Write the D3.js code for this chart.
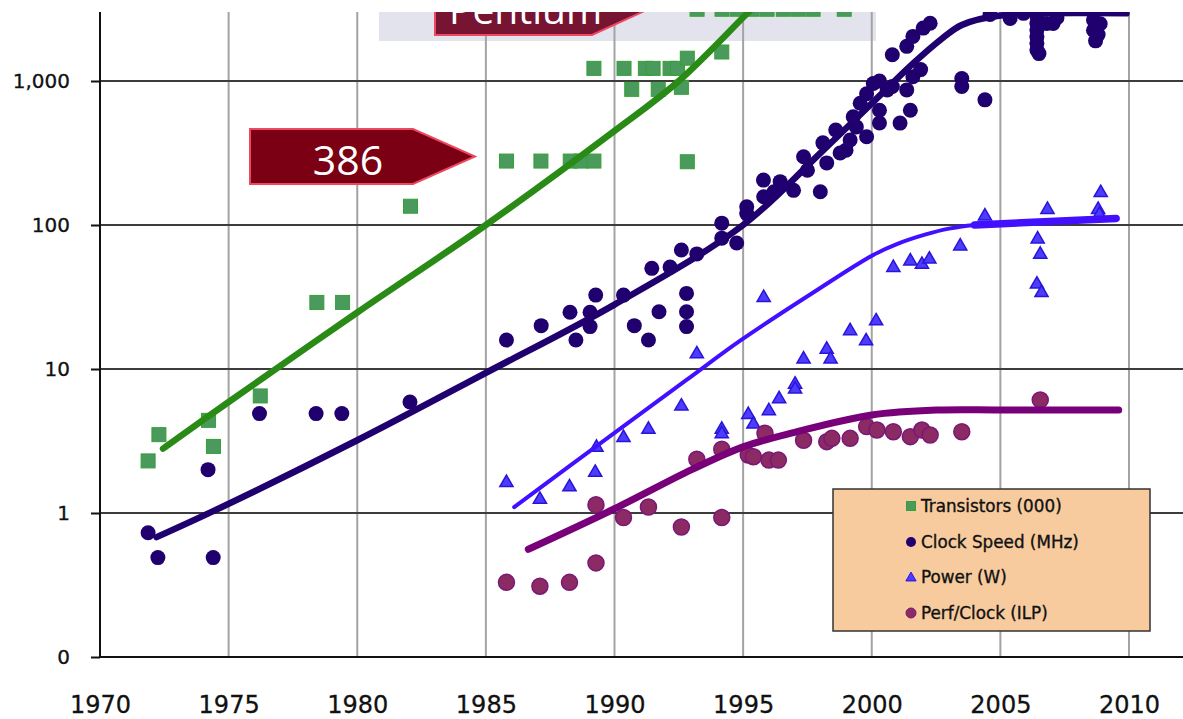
<!DOCTYPE html>
<html>
<head>
<meta charset="utf-8">
<script src="https://cdn.jsdelivr.net/npm/d3@7/dist/d3.min.js"></script>
<style>
html,body{margin:0;padding:0;background:#fff;}
svg{display:block;}
</style>
</head>
<body>
<svg id="chart" width="1183" height="719"></svg>
<script>
// ---------------- DATA ----------------
const xTicks = [1970, 1975, 1980, 1985, 1990, 1995, 2000, 2005, 2010];
const xTickLabels = ["1970", "1975", "1980", "1985", "1990", "1995", "2000", "2005", "2010"];
const yTicks = [0.1, 1, 10, 100, 1000];
const yTickLabels = ["0", "1", "10", "100", "1,000"];
const seriesNames = ["Transistors (000)", "Clock Speed (MHz)", "Power (W)", "Perf/Clock (ILP)"];

const transistors = [
  [1971.87, 2.3], [1972.29, 3.5], [1974.22, 4.4], [1974.41, 2.9], [1976.23, 6.5],
  [1978.43, 29], [1979.43, 29], [1982.07, 135],
  [1985.8, 278], [1987.14, 278], [1988.28, 278], [1988.7, 278], [1989.2, 278], [1992.83, 275],
  [1989.2, 1224], [1990.37, 1224], [1990.67, 875], [1991.2, 1224], [1991.5, 1224], [1991.7, 875],
  [1992.16, 1224], [1992.45, 1224], [1992.6, 904], [1992.83, 1440], [1994.17, 1590],
  [1993.21, 3150], [1994.18, 3150], [1994.77, 3150], [1995.35, 3150], [1995.93, 3150],
  [1996.56, 3150], [1997.14, 3150], [1997.72, 3150], [1998.93, 3150]
];

const clockSpeed = [
  [1971.87, 0.73], [1972.25, 0.49], [1974.4, 0.49], [1974.2, 2.0], [1976.2, 4.9], [1978.4, 4.9],
  [1979.4, 4.9], [1982.05, 5.9],
  [1985.8, 15.9], [1987.15, 20], [1988.27, 24.8], [1988.5, 15.9], [1989.27, 32.6], [1989.05, 24.8],
  [1989.05, 19.7], [1990.35, 32.6], [1990.77, 20], [1991.32, 15.9], [1991.73, 25], [1991.45, 50],
  [1992.16, 51], [1992.6, 67], [1992.8, 33.5], [1992.8, 25], [1992.8, 19.7], [1993.2, 63],
  [1994.17, 103], [1994.75, 75], [1994.17, 81], [1995.14, 120],
  [1995.14, 134], [1995.79, 205], [1996.44, 200], [1995.8, 157], [1996.2, 170], [1996.96, 174],
  [1997.35, 298], [1998.0, 170], [1997.5, 240], [1998.1, 372], [1998.25, 270], [1998.6, 457],
  [1999.0, 331], [1998.77, 316], [1999.28, 565], [1999.16, 389], [1999.8, 410], [1999.55, 700],
  [1999.8, 815], [2000.06, 960], [2000.3, 626], [2000.3, 511], [2000.6, 867], [2000.8, 915],
  [2001.1, 510], [2001.36, 867], [2001.5, 626], [2001.6, 1070], [2000.8, 1520], [2001.36, 1740],
  [2001.6, 2040], [2002.0, 2330], [2002.27, 2520], [2001.9, 1200], [2000.3, 1000], [1999.4, 480],
  [2003.5, 1040], [2003.5, 915], [2004.4, 740],
  [2005.38, 2720], [2006.42, 2800], [2006.42, 2510], [2006.42, 2260], [2006.42, 2030],
  [2006.42, 1830], [2006.42, 1640], [2006.5, 1550], [2006.8, 2510], [2007.05, 2510], [2007.2, 2750],
  [2008.62, 2650], [2008.62, 2250], [2008.7, 1900], [2008.8, 2100], [2008.88, 2500],
  [2004.6, 2900], [2005.9, 2950]
];

const power = [
  [1985.8, 1.65], [1987.1, 1.26], [1988.25, 1.54], [1989.25, 1.94], [1989.3, 2.9], [1990.35, 3.39],
  [1991.32, 3.87], [1992.6, 5.6], [1993.2, 12.9], [1994.17, 3.87], [1994.17, 3.6], [1995.2, 4.9],
  [1995.4, 4.2], [1995.8, 31.8], [1996.0, 5.2], [1996.4, 6.3], [1997.02, 7.95], [1997.02, 7.35],
  [1997.35, 11.9], [1998.25, 13.9], [1998.4, 11.9], [1999.16, 18.7], [1999.78, 15.9], [2000.17, 21.9],
  [2000.84, 51.4], [2001.5, 57], [2001.95, 54], [2002.24, 58.7], [2003.44, 72.5], [2004.4, 117],
  [2006.83, 130], [2006.45, 81], [2006.55, 63.5], [2006.42, 39.4], [2006.6, 34.4],
  [2008.9, 170], [2008.8, 130], [2008.85, 120]
];

const perfClock = [
  [1985.8, 0.33], [1987.1, 0.31], [1988.25, 0.33], [1989.28, 0.45], [1989.28, 1.14], [1990.35, 0.93],
  [1991.32, 1.1], [1992.6, 0.80], [1994.17, 0.93], [1993.2, 2.36], [1994.17, 2.77], [1995.2, 2.53],
  [1995.4, 2.46], [1995.85, 3.58], [1996.0, 2.33], [1996.37, 2.33], [1997.35, 3.2], [1998.25, 3.13],
  [1998.45, 3.3], [1999.16, 3.3], [1999.8, 3.98], [2000.2, 3.77], [2000.84, 3.67], [2001.5, 3.39],
  [2001.95, 3.77], [2002.27, 3.48], [2003.5, 3.67], [2006.55, 6.1]
];

// trend lines
const transistorTrend = [[1972.45, 2.8], [1975, 5.9], [1980, 24.7], [1985, 100], [1990, 450], [1992.5, 1000], [1995.2, 3000], [1996.2, 4500]];
const clockTrend = [[1972.2, 0.68], [1974.4, 1.03], [1980, 3.2], [1985, 9.4], [1990, 28], [1995, 100], [1998, 316], [2000, 700], [2001.6, 1320], [2002.7, 1950], [2003.5, 2450], [2005, 2850], [2009.9, 2950]];
const powerTrend = [[1986.1, 1.1], [1990, 3.6], [1992.8, 8.4], [1994.9, 15.8], [1997.5, 32], [2000.06, 62], [2001, 74], [2002.1, 86], [2003, 94.4], [2004, 100], [2005, 103], [2009.5, 111]];
const powerTrendTail = [[2004, 100], [2009.5, 111]];
const perfTrend = [[1986.65, 0.56], [1990, 1.07], [1993, 2.0], [1995, 2.88], [1997, 3.63], [2000, 4.79], [2002.6, 5.19], [2005, 5.2], [2009.6, 5.2]];

// annotation labels
const labels386 = "386";
const labelPentium = "Pentium";

// ---------------- CHART ----------------
const svg = d3.select("#chart");
const W = 1183, H = 719;
const plotTop = 12, plotLeft = 100, plotBottom = 657;

const x = d3.scaleLinear().domain([1970, 2010]).range([100, 1129]);
const y = d3.scaleLog().domain([0.1, 1000]).range([657, 81]);

svg.append("rect").attr("width", W).attr("height", H).attr("fill", "#fff");

const defs = svg.append("defs");
defs.append("clipPath").attr("id", "plotClip")
  .append("rect").attr("x", 0).attr("y", plotTop).attr("width", W).attr("height", H - plotTop);

const clipped = svg.append("g").attr("clip-path", "url(#plotClip)");

// pentium gray backdrop
clipped.append("rect")
  .attr("x", 379).attr("y", plotTop).attr("width", 497).attr("height", 41 - plotTop)
  .attr("fill", "#e2e3ec");

// vertical grid
const vGrid = [1975, 1980, 1985, 1990, 1995, 2000, 2005, 2010];
clipped.append("g").selectAll("line").data(vGrid).join("line")
  .attr("x1", d => x(d)).attr("x2", d => x(d))
  .attr("y1", plotTop).attr("y2", plotBottom)
  .attr("stroke", "#a3a3a3").attr("stroke-width", 2);

// horizontal grid
clipped.append("g").selectAll("line").data([1, 10, 100, 1000]).join("line")
  .attr("x1", plotLeft).attr("x2", W)
  .attr("y1", d => y(d)).attr("y2", d => y(d))
  .attr("stroke", "#3c3c3c").attr("stroke-width", 2);

// axes lines
clipped.append("line").attr("x1", plotLeft).attr("x2", plotLeft).attr("y1", plotTop).attr("y2", plotBottom)
  .attr("stroke", "#111").attr("stroke-width", 2);
clipped.append("line").attr("x1", plotLeft).attr("x2", W).attr("y1", plotBottom).attr("y2", plotBottom)
  .attr("stroke", "#111").attr("stroke-width", 2);

// y axis via d3
const yAxis = d3.axisLeft(y).tickValues(yTicks).tickFormat((d, i) => yTickLabels[i]).tickSize(9).tickPadding(21);
const yg = svg.append("g").attr("transform", `translate(${plotLeft},0)`).call(yAxis);
yg.select(".domain").remove();
yg.selectAll(".tick line").attr("stroke", "#111").attr("stroke-width", 2);
yg.selectAll(".tick text").attr("font-family", "DejaVu Sans, sans-serif").attr("font-size", 20).attr("fill", "#111")
  .attr("stroke", "#111").attr("stroke-width", 0.3);

// x axis via d3
const xAxis = d3.axisBottom(x).tickValues(xTicks).tickFormat((d, i) => xTickLabels[i]).tickSize(0).tickPadding(39);
const xg = svg.append("g").attr("transform", `translate(0,${plotBottom})`).call(xAxis);
xg.select(".domain").remove();
xg.selectAll(".tick text").attr("font-family", "DejaVu Sans, sans-serif").attr("font-size", 24).attr("fill", "#111")
  .attr("stroke", "#111").attr("stroke-width", 0.3);

// arrow labels
function arrow(g, x0, x1, tip, yTop, yBot, fill) {
  const ym = (yTop + yBot) / 2;
  g.append("path")
    .attr("d", `M${x0},${yTop}L${x1},${yTop}L${tip},${ym}L${x1},${yBot}L${x0},${yBot}Z`)
    .attr("fill", fill).attr("stroke", "#ec4862").attr("stroke-width", 2);
}
arrow(clipped, 435, 592, 652, -20, 35, "#761432");
clipped.append("text").attr("x", 449).attr("y", 24).text(labelPentium)
  .attr("font-family", "Open Sans, sans-serif").attr("font-size", 39).attr("fill", "#fff");
arrow(clipped, 250, 413, 475, 129, 184, "#7b0013");
clipped.append("text").attr("x", 348).attr("y", 175).attr("text-anchor", "middle").text(labels386)
  .attr("font-family", "Open Sans, sans-serif").attr("font-size", 41).attr("fill", "#fff");

// markers
const marks = clipped.append("g");
const sq = 14;
marks.append("g").selectAll("rect").data(transistors).join("rect")
  .attr("x", d => x(d[0]) - sq / 2).attr("y", d => y(d[1]) - sq / 2)
  .attr("width", sq).attr("height", sq)
  .attr("fill", "#4a9a5e").attr("stroke", "#35a033").attr("stroke-width", 1);

marks.append("g").selectAll("circle").data(clockSpeed).join("circle")
  .attr("cx", d => x(d[0])).attr("cy", d => y(d[1])).attr("r", 7.5)
  .attr("fill", "#1f006e");

const tri = d3.symbol().type(d3.symbolTriangle).size(75);
marks.append("g").selectAll("path").data(power).join("path")
  .attr("d", tri).attr("transform", d => `translate(${x(d[0])},${y(d[1]) + 1})`)
  .attr("fill", "#4b3cff").attr("stroke", "#2a14d8").attr("stroke-width", 1.5);

marks.append("g").selectAll("circle").data(perfClock).join("circle")
  .attr("cx", d => x(d[0])).attr("cy", d => y(d[1])).attr("r", 8)
  .attr("fill", "#8c2a64").attr("stroke", "#7a1878").attr("stroke-width", 1.5);

// trend lines
const line = d3.line().x(d => x(d[0])).y(d => y(d[1])).curve(d3.curveCatmullRom.alpha(0.5));
const trends = clipped.append("g").attr("fill", "none").attr("stroke-linecap", "round");
trends.append("path").attr("d", line(transistorTrend)).attr("stroke", "#2a8a16").attr("stroke-width", 6.5);
trends.append("path").attr("d", line(clockTrend)).attr("stroke", "#1f006e").attr("stroke-width", 6.5);
trends.append("path").attr("d", line(powerTrend)).attr("stroke", "#4210ff").attr("stroke-width", 4);
trends.append("path").attr("d", line(powerTrendTail)).attr("stroke", "#4210ff").attr("stroke-width", 7.5);
trends.append("path").attr("d", line(perfTrend)).attr("stroke", "#780078").attr("stroke-width", 7);

// legend
const lg = svg.append("g");
lg.append("rect").attr("x", 833).attr("y", 489).attr("width", 317).attr("height", 142)
  .attr("fill", "#f7cb9e").attr("stroke", "#333").attr("stroke-width", 1.5);
const rowsY = [506, 542, 577, 613];
const mx = 911;
lg.append("rect").attr("x", mx - 4.5).attr("y", rowsY[0] - 4.5).attr("width", 9).attr("height", 9)
  .attr("fill", "#4a9a5e").attr("stroke", "#35a033");
lg.append("circle").attr("cx", mx).attr("cy", rowsY[1]).attr("r", 5).attr("fill", "#1f006e");
lg.append("path").attr("d", d3.symbol().type(d3.symbolTriangle).size(45)).attr("transform", `translate(${mx},${rowsY[2] + 1})`)
  .attr("fill", "#4b3cff").attr("stroke", "#2a14d8");
lg.append("circle").attr("cx", mx).attr("cy", rowsY[3]).attr("r", 5).attr("fill", "#8c2a64").attr("stroke", "#7a1878");
lg.selectAll("text.lt").data(seriesNames).join("text").attr("class", "lt")
  .attr("x", 921).attr("y", (d, i) => rowsY[i]).attr("dy", "0.36em").text(d => d)
  .attr("font-family", "DejaVu Sans, sans-serif").attr("font-size", 16.8).attr("fill", "#111")
  .attr("stroke", "#111").attr("stroke-width", 0.35);
</script>
</body>
</html>
